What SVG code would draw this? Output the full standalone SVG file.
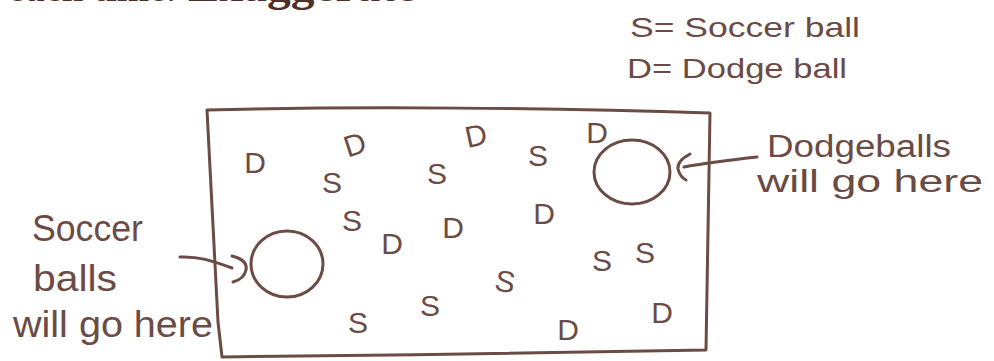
<svg xmlns="http://www.w3.org/2000/svg" width="994" height="361" viewBox="0 0 994 361">
<style>
.ink{fill:none;stroke:#6b4b45;stroke-width:3;stroke-linecap:round;stroke-linejoin:round}
.hw{font-family:"Liberation Sans","DejaVu Sans",sans-serif;fill:#6b4b45}
.ltr{font-family:"Liberation Sans","DejaVu Sans",sans-serif;fill:#6b4b45;font-size:30px;text-anchor:middle}
.head{font-family:"Liberation Serif","DejaVu Serif",serif;font-weight:bold;fill:#4e302a;font-size:44px}
</style>
<rect width="994" height="361" fill="#ffffff"/>
<g id="heading">
<text class="head" x="8" y="1" textLength="168" lengthAdjust="spacingAndGlyphs">each time.</text>
<text class="head" x="188" y="1" textLength="229" lengthAdjust="spacingAndGlyphs">Exaggerate</text>
</g>
<g id="legend">
<text class="hw" x="630" y="37" font-size="28" textLength="230" lengthAdjust="spacingAndGlyphs">S= Soccer ball</text>
<text class="hw" x="627" y="78" font-size="28" textLength="220" lengthAdjust="spacingAndGlyphs">D= Dodge ball</text>
</g>
<g id="field">
<path class="ink" d="M207,110 C360,106 560,108 710,113 L706,350 C560,352 380,356 222,357 L218,322 L207,110 Z"/>
</g>
<g id="dodgeball-zone">
<ellipse class="ink" cx="632" cy="172" rx="38" ry="32"/>
</g>
<g id="soccer-zone">
<ellipse class="ink" cx="287" cy="264" rx="36" ry="33"/>
</g>
<g id="balls">
<text class="ltr" x="255" y="173" font-size="26">D</text>
<text class="ltr" x="355" y="155" transform="rotate(-18 355 145)">D</text>
<text class="ltr" x="332" y="193">S</text>
<text class="ltr" x="476" y="146" transform="rotate(-12 476 136)">D</text>
<text class="ltr" x="437" y="184">S</text>
<text class="ltr" x="538" y="166">S</text>
<text class="ltr" x="597" y="143" font-size="24">D</text>
<text class="ltr" x="352" y="231">S</text>
<text class="ltr" x="392" y="254">D</text>
<text class="ltr" x="453" y="238">D</text>
<text class="ltr" x="544" y="224" font-size="34">D</text>
<text class="ltr" x="602" y="271">S</text>
<text class="ltr" x="645" y="263" font-size="32">S</text>
<text class="ltr" x="505" y="292" transform="rotate(10 505 282)">S</text>
<text class="ltr" x="358" y="333" font-size="36">S</text>
<text class="ltr" x="430" y="316">S</text>
<text class="ltr" x="568" y="340">D</text>
<text class="ltr" x="662" y="323">D</text>
</g>
<g id="dodgeball-label">
<text class="hw" x="767" y="157" font-size="31" textLength="184" lengthAdjust="spacingAndGlyphs">Dodgeballs</text>
<text class="hw" x="757" y="192" font-size="31" textLength="226" lengthAdjust="spacingAndGlyphs">will go here</text>
</g>
<g id="soccer-label">
<text class="hw" x="32" y="241" font-size="36" textLength="111" lengthAdjust="spacingAndGlyphs">Soccer</text>
<text class="hw" x="33" y="291" font-size="36" textLength="84" lengthAdjust="spacingAndGlyphs">balls</text>
<text class="hw" x="13" y="337" font-size="36" textLength="200" lengthAdjust="spacingAndGlyphs">will go here</text>
</g>
<g id="connectors">
<path class="ink" d="M757,157 C730,160 705,163 684,167"/>
<path class="ink" d="M690,154 Q677,161 678,169 Q680,177 686,180"/>
<path class="ink" d="M180,257 C200,256 215,262 232,268"/>
<path class="ink" d="M232,256 Q248,260 246,270 Q244,279 233,282"/>
</g>
</svg>
